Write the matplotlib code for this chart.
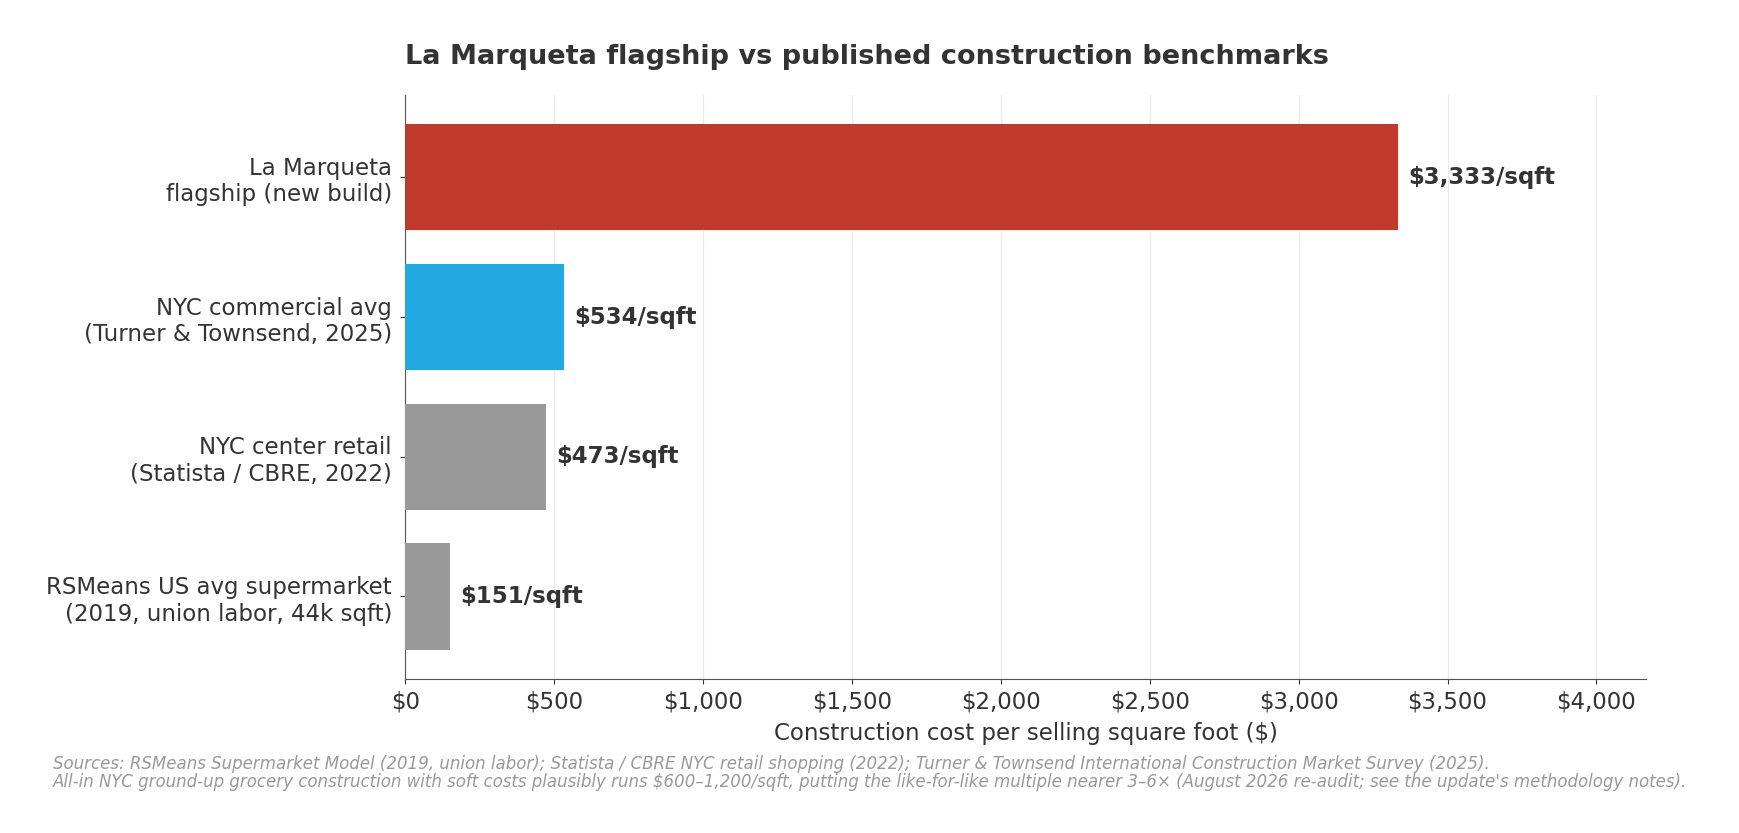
import matplotlib.pyplot as plt
from matplotlib.ticker import FuncFormatter

labels = ['La Marqueta\nflagship (new build)',
          'NYC commercial avg\n(Turner & Townsend, 2025)',
          'NYC center retail\n(Statista / CBRE, 2022)',
          'RSMeans US avg supermarket\n(2019, union labor, 44k sqft)']
values = [3333, 534, 473, 151]
colors = ['#c0392b', '#22a9e1', '#999999', '#999999']

footnote = ("Sources: RSMeans Supermarket Model (2019, union labor); Statista / CBRE NYC retail shopping (2022); "
            "Turner & Townsend International Construction Market Survey (2025).\n"
            "All-in NYC ground-up grocery construction with soft costs plausibly runs $600\u20131,200/sqft, "
            "putting the like-for-like multiple nearer 3\u20136\u00d7 (August 2026 re-audit; see the update's methodology notes).")

txt = '#333333'
plt.rcParams['font.family'] = 'DejaVu Sans'

fig, ax = plt.subplots(figsize=(17.39, 8.33), dpi=100)
fig.subplots_adjust(left=0.233, right=0.9465, top=0.886, bottom=0.185)

y = list(range(len(values)))
ax.barh(y, values, height=0.76, color=colors, zorder=3)
ax.set_ylim(len(values) - 0.41, -0.59)
ax.set_yticks(y)
ax.set_yticklabels(labels, fontsize=16.5, color=txt)

for yi, v in zip(y, values):
    ax.text(v + 35, yi, f'${v:,}/sqft', va='center', ha='left',
            fontsize=16.5, fontweight='bold', color=txt, zorder=4)

ax.set_xlim(0, max(values) * 1.25)
ax.set_xticks(range(0, 4001, 500))
ax.xaxis.set_major_formatter(FuncFormatter(lambda x, p: f'${x:,.0f}'))
ax.tick_params(axis='x', labelsize=16.5, colors=txt, pad=5)
ax.tick_params(axis='y', colors=txt, pad=6)
ax.grid(axis='x', color='#ebebeb', linewidth=1, zorder=0)

for s in ['top', 'right']:
    ax.spines[s].set_visible(False)
for s in ['left', 'bottom']:
    ax.spines[s].set_color('#555555')

ax.set_xlabel('Construction cost per selling square foot ($)', fontsize=16.5, color=txt, labelpad=6)
ax.set_title('La Marqueta flagship vs published construction benchmarks',
             fontsize=19.5, fontweight='bold', color=txt, loc='left', pad=22)

fig.text(0.0306, 0.094, footnote, fontsize=12, style='italic', color='#999999',
         va='top', ha='left', linespacing=1.05)

fig.savefig('out.png', dpi=100)
